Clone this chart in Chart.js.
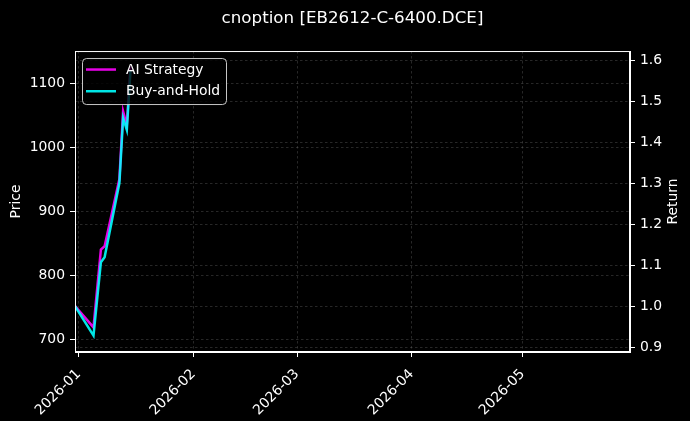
<!DOCTYPE html>
<html>
<head>
<meta charset="utf-8">
<script src="https://cdn.jsdelivr.net/npm/chart.js@4.4.1/dist/chart.umd.min.js"></script>
<style>
  html, body { margin: 0; padding: 0; background: #000; }
  #wrap { width: 690px; height: 421px; }
</style>
</head>
<body>
<div id="wrap"><canvas id="optChart" width="690" height="421"></canvas></div>
<script>
// data
const dates = ['2025-12-31', '2026-01-05', '2026-01-07', '2026-01-08', '2026-01-12', '2026-01-13', '2026-01-14', '2026-01-15'];
const aiStrategy = [1.0, 0.948, 1.138, 1.146, 1.31, 1.475, 1.44, 1.585];
const buyAndHold = [1.0, 0.928, 1.107, 1.119, 1.30, 1.459, 1.43, 1.575];
const monthTicks = ['2026-01-01', '2026-02-01', '2026-03-01', '2026-04-01', '2026-05-01'];
const priceTicks = [700, 800, 900, 1000, 1100];
const returnTicks = [0.9, 1.0, 1.1, 1.2, 1.3, 1.4, 1.5, 1.6];
const xRange = ['2025-12-31', '2026-05-30'];
const priceRange = [680, 1150];
const returnRange = [0.888, 1.622];

const FONT = 'DejaVu Sans';
const FS = 13.9;
const day = s => Date.parse(s + 'T00:00:00Z') / 86400000;
const pad2 = n => (n < 10 ? '0' : '') + n;

const gridColor = 'rgba(130,130,130,0.3)';

const darkBox = {
    id: 'darkBox',
    beforeDraw(chart) {
        const { ctx } = chart;
        ctx.save();
        ctx.fillStyle = '#000';
        ctx.fillRect(0, 0, chart.width, chart.height);
        ctx.restore();
    },
    afterDraw(chart) {
        const { ctx, chartArea: a } = chart;
        ctx.save();
        // spines
        ctx.strokeStyle = '#fff';
        ctx.lineWidth = 1;
        ctx.strokeRect(a.left + 0.5, a.top + 0.5, a.right - a.left - 1, a.bottom - a.top - 1);

        // right axis label, reading bottom to top
        ctx.fillStyle = '#fff';
        ctx.font = FS + 'px ' + FONT;
        ctx.textAlign = 'center';
        ctx.textBaseline = 'middle';
        ctx.save();
        ctx.translate(673, (a.top + a.bottom) / 2);
        ctx.rotate(-Math.PI / 2);
        ctx.fillText('Return', 0, 0);
        ctx.restore();

        // legend box, upper left
        const x0 = a.left + 7, y0 = a.top + 7, w = 144, h = 46;
        ctx.beginPath();
        ctx.roundRect(x0 + 0.5, y0 + 0.5, w, h, 4);
        ctx.fillStyle = 'rgba(0,0,0,0.8)';
        ctx.fill();
        ctx.strokeStyle = 'rgba(220,220,220,0.9)';
        ctx.stroke();
        ctx.textAlign = 'left';
        chart.data.datasets.forEach((ds, i) => {
            const yy = y0 + 11.5 + i * 21.7;
            ctx.strokeStyle = ds.borderColor;
            ctx.lineWidth = 2.5;
            ctx.beginPath();
            ctx.moveTo(x0 + 4, yy);
            ctx.lineTo(x0 + 34, yy);
            ctx.stroke();
            ctx.fillStyle = '#fff';
            ctx.fillText(ds.label, x0 + 44, yy + 0.5);
        });
        ctx.restore();
    }
};

const gridOpts = { color: gridColor, tickColor: '#fff', tickLength: 5, tickBorderDash: [] };
const borderOpts = { color: '#fff', width: 1, dash: [2.5, 2.5] };

const ctx = document.getElementById('optChart').getContext('2d');
new Chart(ctx, {
    type: 'line',
    data: {
        datasets: [
            {
                label: 'AI Strategy',
                data: dates.map((d, i) => ({ x: day(d), y: aiStrategy[i] })),
                borderColor: 'rgba(255,0,255,0.9)',
                borderWidth: 2.5,
                pointRadius: 0,
                tension: 0,
                order: 1,
                yAxisID: 'yR'
            },
            {
                label: 'Buy-and-Hold',
                data: dates.map((d, i) => ({ x: day(d), y: buyAndHold[i] })),
                borderColor: 'rgba(0,255,255,0.9)',
                borderWidth: 2.5,
                pointRadius: 0,
                tension: 0,
                order: 0,
                yAxisID: 'yR'
            }
        ]
    },
    options: {
        responsive: false,
        animation: false,
        devicePixelRatio: 1,
        layout: { padding: 0 },
        plugins: {
            legend: { display: false },
            tooltip: { enabled: false },
            title: {
                display: true,
                fullSize: false,
                text: 'cnoption [EB2612-C-6400.DCE]',
                color: '#fff',
                font: { family: FONT, size: 16.7, weight: 'normal' },
                padding: { top: 8.5, bottom: 22.5 }
            }
        },
        scales: {
            x: {
                type: 'linear',
                min: day(xRange[0]),
                max: day(xRange[1]),
                afterBuildTicks: s => { s.ticks = monthTicks.map(d => ({ value: day(d) })); },
                afterFit: s => { s.height = 69; },
                ticks: {
                    color: '#fff',
                    font: { family: FONT, size: FS },
                    minRotation: 45,
                    maxRotation: 45,
                    padding: 9,
                    autoSkip: false,
                    callback: v => {
                        const dt = new Date(v * 86400000);
                        return dt.getUTCFullYear() + '-' + pad2(dt.getUTCMonth() + 1);
                    }
                },
                grid: gridOpts,
                border: borderOpts
            },
            yL: {
                type: 'linear',
                position: 'left',
                min: priceRange[0],
                max: priceRange[1],
                afterBuildTicks: s => { s.ticks = priceTicks.map(v => ({ value: v })); },
                afterFit: s => { s.width = 75; },
                title: { display: true, text: 'Price', color: '#fff', font: { family: FONT, size: FS }, padding: { top: 8.5, bottom: 0 } },
                ticks: { color: '#fff', font: { family: FONT, size: FS }, padding: 5, callback: v => String(v) },
                grid: gridOpts,
                border: borderOpts
            },
            yR: {
                type: 'linear',
                position: 'right',
                min: returnRange[0],
                max: returnRange[1],
                afterBuildTicks: s => { s.ticks = returnTicks.map(v => ({ value: v })); },
                afterFit: s => { s.width = 60; },
                ticks: { color: '#fff', font: { family: FONT, size: FS }, padding: 5, callback: v => v.toFixed(1) },
                grid: gridOpts,
                border: borderOpts
            }
        }
    },
    plugins: [darkBox]
});
</script>
</body>
</html>
